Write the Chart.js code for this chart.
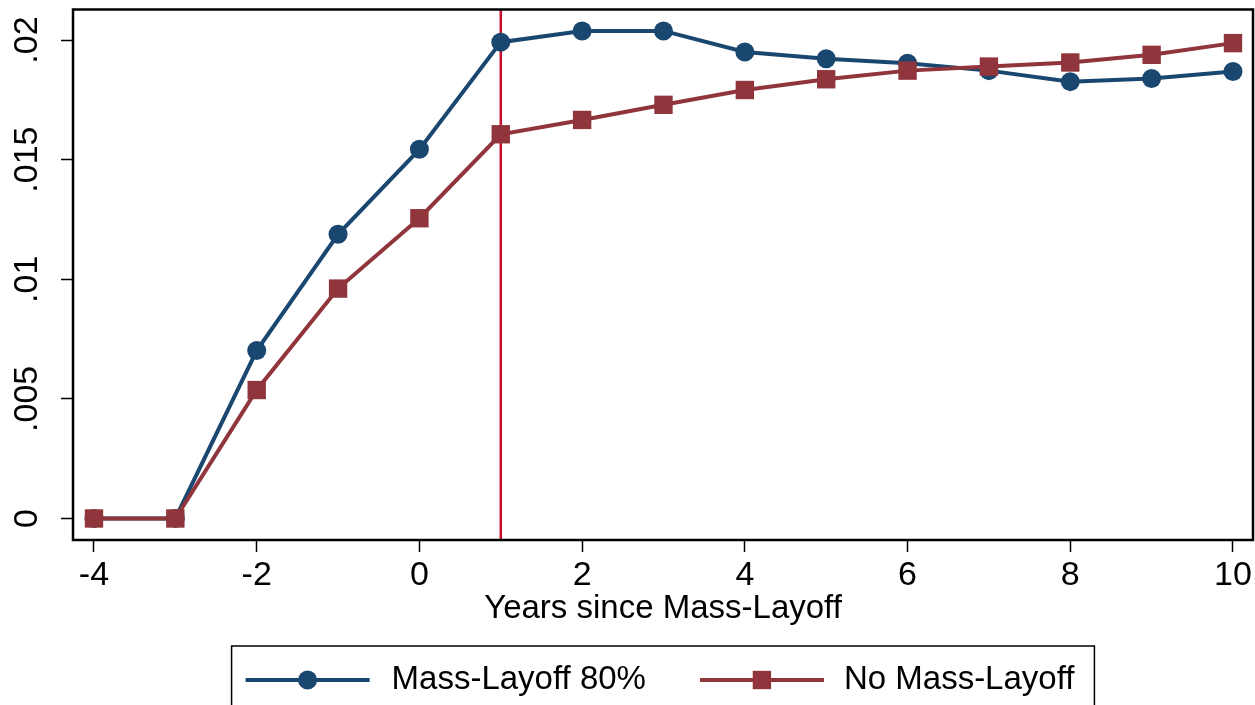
<!DOCTYPE html>
<html>
<head>
<meta charset="utf-8">
<script src="https://cdn.jsdelivr.net/npm/chart.js@4/dist/chart.umd.min.js"></script>
<style>
  body { margin: 0; background: #fff; }
  canvas { display: block; }
</style>
</head>
<body>
<canvas id="chart" width="1255" height="705"></canvas>
<script>
// data
const years = [-4, -3, -2, -1, 0, 1, 2, 3, 4, 5, 6, 7, 8, 9, 10]
const massLayoff = [0, 0, 0.00702, 0.01188, 0.01543, 0.01991, 0.02038, 0.02038, 0.0195, 0.01922, 0.01903, 0.01872, 0.01826, 0.01839, 0.01868]
const noMassLayoff = [0, 0, 0.00537, 0.00961, 0.01255, 0.01606, 0.01666, 0.01729, 0.01791, 0.01836, 0.01872, 0.01889, 0.01906, 0.01938, 0.01987]
const xTicks = [-4, -2, 0, 2, 4, 6, 8, 10]
const yTicks = [0, 0.005, 0.01, 0.015, 0.02]
const yTickLabels = ['0', '.005', '.01', '.015', '.02']
const eventYear = 1

const FONT = '"Liberation Sans", Arial, Helvetica, sans-serif'
const BLUE = '#1a476f'
const RED = '#90353b'

const toPoints = (arr) => years.map((x, i) => ({x: x, y: arr[i]}))

// no extra room for labels that stick out
const noPad = (s) => {
    s.paddingTop = 0
    s.paddingBottom = 0
    s.paddingLeft = 0
    s.paddingRight = 0
}

// red vertical line + frame + boxed legend
const extras = {
    id: 'extras',
    beforeDatasetsDraw(chart) {
        const ctx = chart.ctx
        const a = chart.chartArea
        const px = chart.scales.x.getPixelForValue(eventYear)
        ctx.save()
        ctx.strokeStyle = '#c8102e'
        ctx.lineWidth = 2.5
        ctx.beginPath()
        ctx.moveTo(px, a.top)
        ctx.lineTo(px, a.bottom)
        ctx.stroke()
        ctx.restore()
    },
    afterDraw(chart) {
        const ctx = chart.ctx
        const a = chart.chartArea
        ctx.save()
        ctx.strokeStyle = '#000'
        ctx.lineWidth = 2.5
        ctx.strokeRect(a.left, a.top, a.right - a.left, a.bottom - a.top)

        // legend
        ctx.font = '33px ' + FONT
        const items = chart.data.datasets.slice().sort((p, q) => p.legendPos - q.legendPos)
        const widths = items.map(d => ctx.measureText(d.label).width)
        const lineLen = 124
        const total = 14 + lineLen + 22 + widths[0] + 54 + lineLen + 20 + widths[1] + 20
        const boxLeft = (a.left + a.right) / 2 - total / 2
        const boxTop = 646
        const cy = 680
        ctx.lineWidth = 1.5
        ctx.strokeRect(boxLeft, boxTop, total, 100)
        let x = boxLeft + 14
        items.forEach((d, i) => {
            ctx.strokeStyle = d.borderColor
            ctx.lineWidth = d.borderWidth
            ctx.beginPath()
            ctx.moveTo(x, cy)
            ctx.lineTo(x + lineLen, cy)
            ctx.stroke()
            ctx.fillStyle = d.pointBackgroundColor
            ctx.beginPath()
            if (d.pointStyle === 'rect') {
                const s = d.pointRadius * Math.SQRT1_2
                ctx.rect(x + lineLen / 2 - s, cy - s, 2 * s, 2 * s)
            } else {
                ctx.arc(x + lineLen / 2, cy, d.pointRadius, 0, Math.PI * 2)
            }
            ctx.fill()
            x += lineLen + (i === 0 ? 22 : 20)
            ctx.fillStyle = '#000'
            ctx.textAlign = 'left'
            ctx.textBaseline = 'middle'
            ctx.fillText(d.label, x, cy)
            x += widths[i] + 54
        })
        ctx.restore()
    }
}

const config = {
    type: 'line',
    data: {
        datasets: [
            {
                label: 'No Mass-Layoff',
                legendPos: 1,
                data: toPoints(noMassLayoff),
                borderColor: RED,
                backgroundColor: RED,
                pointBackgroundColor: RED,
                borderWidth: 4,
                pointStyle: 'rect',
                pointRadius: 13,
                pointBorderWidth: 0,
                clip: false,
                order: 1
            },
            {
                label: 'Mass-Layoff 80%',
                legendPos: 0,
                data: toPoints(massLayoff),
                borderColor: BLUE,
                backgroundColor: BLUE,
                pointBackgroundColor: BLUE,
                borderWidth: 4,
                pointStyle: 'circle',
                pointRadius: 9.5,
                pointBorderWidth: 0,
                clip: false,
                order: 2
            }
        ]
    },
    options: {
        responsive: false,
        animation: false,
        layout: {autoPadding: false, padding: {left: 0, right: 2, top: 9.5, bottom: 76}},
        plugins: {legend: {display: false}, tooltip: {enabled: false}},
        elements: {line: {tension: 0}},
        scales: {
            x: {
                type: 'linear',
                min: -4.258,
                max: 10.246,
                afterBuildTicks: (s) => { s.ticks = xTicks.map(v => ({value: v})) },
                afterFit: (s) => { s.height = 89; noPad(s) },
                border: {display: false},
                grid: {drawOnChartArea: false, tickLength: 12, tickWidth: 1.5, color: '#000'},
                ticks: {
                    font: {family: FONT, size: 34},
                    color: '#000',
                    padding: 3,
                    maxRotation: 0,
                    autoSkip: false
                },
                title: {
                    display: true,
                    text: 'Years since Mass-Layoff',
                    font: {family: FONT, size: 33},
                    color: '#000',
                    padding: 0
                }
            },
            y: {
                min: -0.000899,
                max: 0.021275,
                afterBuildTicks: (s) => { s.ticks = yTicks.map(v => ({value: v})) },
                afterFit: (s) => { s.width = 73; noPad(s) },
                border: {display: false},
                grid: {drawOnChartArea: false, tickLength: 12, tickWidth: 1.5, color: '#000'},
                ticks: {
                    font: {family: FONT, size: 34},
                    color: '#000',
                    padding: 0,
                    minRotation: 90,
                    maxRotation: 90,
                    crossAlign: 'center',
                    autoSkip: false,
                    callback: (v, i) => yTickLabels[i]
                }
            }
        }
    },
    plugins: [extras]
}

new Chart(document.getElementById('chart'), config)
</script>
</body>
</html>
